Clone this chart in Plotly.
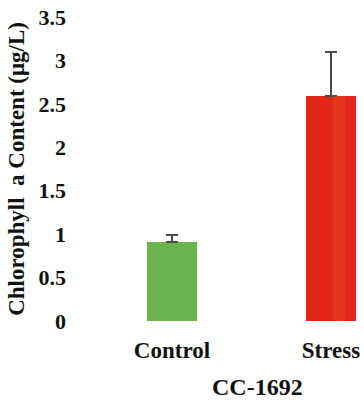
import plotly.graph_objects as go

categories = ["Control", "Stress"]
values = [0.91, 2.59]
errors = [0.08, 0.51]
colors = ["#6cb44e", "#e3261c"]
y_ticks = [0, 0.5, 1, 1.5, 2, 2.5, 3, 3.5]
y_ticklabels = ["0", "0.5", "1", "1.5", "2", "2.5", "3", "3.5"]
group_label = "CC-1692"

font_family = "Liberation Serif, Times New Roman, serif"

fig = go.Figure()
fig.add_trace(go.Bar(
    x=[0, 1], y=values,
    marker=dict(color=colors, line=dict(width=0)),
    width=0.32,
    error_y=dict(type="data", array=errors, symmetric=False, arrayminus=[0, 0],
                 color="#4a4a4a", thickness=1.6, width=6, visible=True),
    showlegend=False,
))
# faint orange streak on the stress bar
fig.add_trace(go.Bar(
    x=[1], y=[values[1]], width=0.08, offset=0.01,
    marker=dict(color="rgba(240,100,30,0.25)", line=dict(width=0)),
    showlegend=False, hoverinfo="skip",
))

fig.add_annotation(x=0.54, xref="x", y=-0.218, yref="paper", yanchor="middle",
                   text=group_label, showarrow=False,
                   font=dict(family=font_family, size=24, color="#111", weight="bold"))

fig.update_layout(
    width=364, height=405,
    margin=dict(l=92, r=0, t=17, b=84),
    paper_bgcolor="white", plot_bgcolor="white",
    bargap=0, barmode="overlay",
    xaxis=dict(range=[-0.503, 1.208], tickvals=[0, 1], ticktext=categories,
               showgrid=False, zeroline=False, showline=False, ticks="",
               ticklabelstandoff=13,
               tickfont=dict(family=font_family, size=23, color="#111", weight="bold")),
    yaxis=dict(range=[0, 3.5], tickvals=y_ticks, ticktext=y_ticklabels,
               showgrid=False, zeroline=False, showline=False, ticks="",
               ticklabelstandoff=25,
               tickfont=dict(family=font_family, size=22, color="#111", weight="bold"),
               title=dict(text="Chlorophyll \u00a0a Content (\u03bcg/L)", standoff=7,
                          font=dict(family=font_family, size=23, color="#111", weight="bold"))),
)

fig.write_html("out.html")
